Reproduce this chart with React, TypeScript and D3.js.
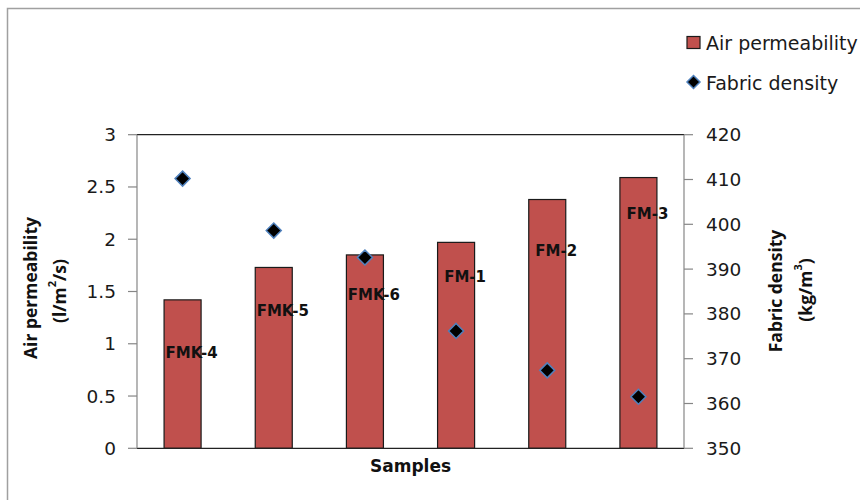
import React from "react";
import * as d3 from "d3";

const samples = ["FMK-4", "FMK-5", "FMK-6", "FM-1", "FM-2", "FM-3"];
const airPermeability = [1.42, 1.73, 1.85, 1.97, 2.38, 2.59];
const fabricDensity = [410.2, 398.6, 392.6, 376.2, 367.4, 361.5];
const labelLevels = [0.91, 1.31, 1.47, 1.64, 1.89, 2.245];
const leftTicks = [0, 0.5, 1, 1.5, 2, 2.5, 3];
const rightTicks = [350, 360, 370, 380, 390, 400, 410, 420];

const W = 860;
const H = 500;
const plot = { left: 137, right: 684, top: 134.7, bottom: 448.3 };
const FONT = "'DejaVu Sans', sans-serif";
const TFONT = "'Open Sans', sans-serif";
const BAR = "#C0504D";
const BLUE = "#4F81BD";
const AXIS = "#868686";

export default function App() {
  const x = d3
    .scaleBand<string>()
    .domain(samples)
    .range([plot.left, plot.right])
    .paddingInner(0.594)
    .paddingOuter(0.297);
  const yL = d3.scaleLinear().domain([0, 3]).range([plot.bottom, plot.top]);
  const yR = d3.scaleLinear().domain([350, 420]).range([plot.bottom, plot.top]);
  const diamond = (cx: number, cy: number, r: number) =>
    `M${cx},${cy - r}L${cx + r},${cy}L${cx},${cy + r}L${cx - r},${cy}Z`;

  return (
    <svg
      width={W}
      height={H}
      style={{ position: "absolute", left: 0, top: 0, background: "#fff" }}
    >
      {/* outer chart border */}
      <rect x={7.5} y={8.5} width={W} height={H} fill="#fff" stroke="#A0A0A0" strokeWidth={1.5} />

      {/* bars */}
      {samples.map((s, i) => (
        <rect
          key={s}
          x={x(s)!}
          y={yL(airPermeability[i])}
          width={x.bandwidth()}
          height={yL(0) - yL(airPermeability[i])}
          fill={BAR}
          stroke="#1a1a1a"
          strokeWidth={1.2}
        />
      ))}

      {/* plot frame */}
      <line x1={plot.left} x2={plot.right} y1={plot.top} y2={plot.top} stroke="#222" strokeWidth={1.2} />
      <line x1={plot.left} x2={plot.right} y1={plot.bottom} y2={plot.bottom} stroke="#222" strokeWidth={1.2} />
      <line x1={plot.left} x2={plot.left} y1={plot.top} y2={plot.bottom} stroke={AXIS} strokeWidth={1.2} />
      <line x1={plot.right} x2={plot.right} y1={plot.top} y2={plot.bottom} stroke={AXIS} strokeWidth={1.2} />

      {/* left axis */}
      {leftTicks.map((t) => (
        <g key={"l" + t}>
          <line x1={plot.left - 9} x2={plot.left} y1={yL(t)} y2={yL(t)} stroke={AXIS} strokeWidth={1.2} />
          <text
            x={116}
            y={yL(t)}
            textAnchor="end"
            dominantBaseline="central"
            fontFamily={FONT}
            fontSize={18.5}
            fill="#1a1a1a"
          >
            {t}
          </text>
        </g>
      ))}

      {/* right axis */}
      {rightTicks.map((t) => (
        <g key={"r" + t}>
          <line x1={plot.right} x2={plot.right + 9} y1={yR(t)} y2={yR(t)} stroke={AXIS} strokeWidth={1.2} />
          <text
            x={706}
            y={yR(t)}
            textAnchor="start"
            dominantBaseline="central"
            fontFamily={FONT}
            fontSize={18.5}
            fill="#1a1a1a"
          >
            {t}
          </text>
        </g>
      ))}

      {/* bar labels */}
      {samples.map((s, i) => (
        <text
          key={"lab" + s}
          x={x(s)! + x.bandwidth() / 2 + 9}
          y={yL(labelLevels[i])}
          textAnchor="middle"
          dominantBaseline="central"
          fontFamily={FONT}
          fontWeight="bold"
          fontSize={15}
          fill="#111"
        >
          {s}
        </text>
      ))}

      {/* density diamonds */}
      {samples.map((s, i) => (
        <path
          key={"d" + s}
          d={diamond(x(s)! + x.bandwidth() / 2, yR(fabricDensity[i]), 7.5)}
          fill="#000"
          stroke={BLUE}
          strokeWidth={1.5}
        />
      ))}

      {/* axis titles */}
      <text
        x={410.5}
        y={466}
        textAnchor="middle"
        dominantBaseline="central"
        fontFamily={FONT}
        fontWeight="bold"
        fontSize={17}
        fill="#111"
      >
        Samples
      </text>
      <g transform="translate(30,288) rotate(-90)">
        <text textAnchor="middle" dominantBaseline="central" fontFamily={TFONT} fontWeight="bold" fontSize={17.5} fill="#111">
          Air permeability
        </text>
      </g>
      <g transform="translate(59,291) rotate(-90)">
        <text textAnchor="middle" dominantBaseline="central" fontFamily={TFONT} fontWeight="bold" fontSize={17.5} fill="#111">
          (l/m<tspan baselineShift="super" fontSize={11}>2</tspan>/s)
        </text>
      </g>
      <g transform="translate(775,291) rotate(-90)">
        <text textAnchor="middle" dominantBaseline="central" fontFamily={TFONT} fontWeight="bold" fontSize={17.5} fill="#111">
          Fabric density
        </text>
      </g>
      <g transform="translate(805,290) rotate(-90)">
        <text textAnchor="middle" dominantBaseline="central" fontFamily={TFONT} fontWeight="bold" fontSize={17.5} fill="#111">
          (kg/m<tspan baselineShift="super" fontSize={11}>3</tspan>)
        </text>
      </g>

      {/* legend */}
      <rect x={687} y={36.5} width={13} height={12} fill={BAR} stroke="#1a1a1a" strokeWidth={1.2} />
      <text x={706} y={42.5} dominantBaseline="central" fontFamily={FONT} fontSize={19} fill="#1a1a1a">
        Air permeability
      </text>
      <path d={diamond(693.5, 82, 6.5)} fill="#000" stroke={BLUE} strokeWidth={1.5} />
      <text x={706} y={82.5} dominantBaseline="central" fontFamily={FONT} fontSize={19} fill="#1a1a1a">
        Fabric density
      </text>
    </svg>
  );
}
